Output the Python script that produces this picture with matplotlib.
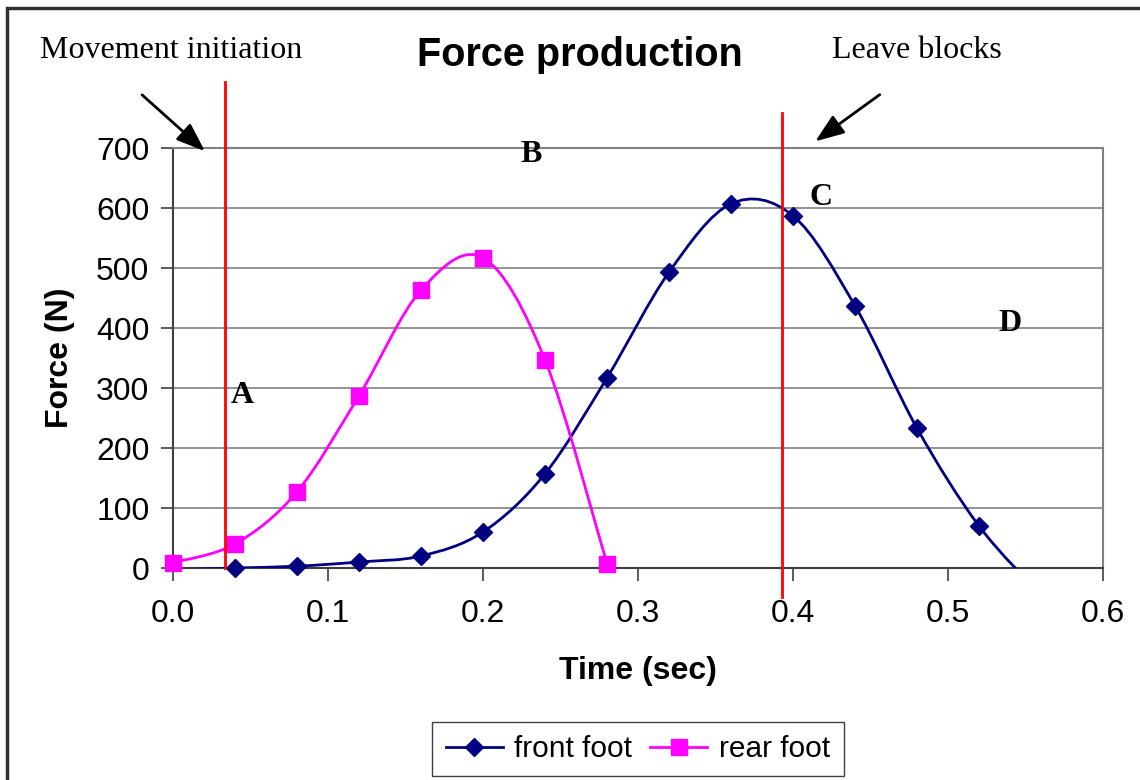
import numpy as np
import matplotlib.pyplot as plt
from matplotlib.path import Path
from matplotlib.patches import PathPatch, Rectangle, FancyArrowPatch
from matplotlib.lines import Line2D

# data
time_front = [0.0, 0.04, 0.08, 0.12, 0.16, 0.20, 0.24, 0.28, 0.32, 0.36, 0.40, 0.44, 0.48, 0.52, 0.56]
force_front = [-3, 0, 3, 10, 20, 60, 157, 317, 493, 607, 587, 437, 233, 70, -45]

time_rear = [0.0, 0.04, 0.08, 0.12, 0.16, 0.20, 0.24, 0.28]
force_rear = [9, 40, 127, 287, 463, 517, 347, 7]

line_times = [0.0335, 0.393]
line_tops = [810, 758]
line_bottoms = [0, -48]

letters = ['A', 'B', 'C', 'D']
letter_x = [0.045, 0.231, 0.418, 0.54]
letter_y = [288, 690, 617, 408]

plt.rcParams['font.family'] = ['Liberation Sans', 'DejaVu Sans']


def smooth_path(x, y):
    # excel-like smoothed line: cubic bezier through every point
    pts = np.column_stack([x, y]).astype(float)
    n = len(pts)
    verts = [pts[0]]
    codes = [Path.MOVETO]
    for i in range(n - 1):
        p0 = pts[i - 1] if i > 0 else pts[i]
        p1 = pts[i]
        p2 = pts[i + 1]
        p3 = pts[i + 2] if i + 2 < n else pts[i + 1]
        c1 = p1 + (p2 - p0) / 6
        c2 = p2 - (p3 - p1) / 6
        verts += [c1, c2, p2]
        codes += [Path.CURVE4] * 3
    return Path(verts, codes)


fig = plt.figure(figsize=(11.4, 7.8), dpi=100)
ax = fig.add_axes([173 / 1140, 1 - 568 / 780, 930 / 1140, 420 / 780])

ax.set_xlim(0, 0.6)
ax.set_ylim(0, 700)
ax.set_xticks(np.arange(0, 0.61, 0.1))
ax.set_xticklabels(['%.1f' % t for t in np.arange(0, 0.61, 0.1)])
ax.set_yticks(np.arange(0, 701, 100))
ax.grid(axis='y', color='#808080', linewidth=1.2)
ax.set_axisbelow(True)
ax.tick_params(labelsize=23, length=9, width=1.2, color='#404040', pad=8)
ax.tick_params(axis='x', pad=13)
for s in ['top', 'right']:
    ax.spines[s].set_color('#808080')
    ax.spines[s].set_linewidth(1.5)
for s in ['left', 'bottom']:
    ax.spines[s].set_color('#404040')
    ax.spines[s].set_linewidth(1.5)

ax.set_xlabel('Time (sec)', fontsize=23, fontweight='bold', labelpad=20)
ax.set_ylabel('Force (N)', fontsize=23, fontweight='bold', labelpad=15)

# smoothed curves
ax.add_patch(PathPatch(smooth_path(time_front, force_front), fill=False,
                       edgecolor='#000080', linewidth=2, zorder=3))
ax.add_patch(PathPatch(smooth_path(time_rear, force_rear), fill=False,
                       edgecolor='#FF00FF', linewidth=2, zorder=3))

# markers (only the points inside the plot area)
tf = np.array(time_front)
ff = np.array(force_front)
ok = ff >= 0
ax.plot(tf[ok], ff[ok], linestyle='none', marker='D', markersize=9,
        color='#000080', zorder=4, clip_on=False)
ax.plot(time_rear, force_rear, linestyle='none', marker='s', markersize=12,
        color='#FF00FF', zorder=5, clip_on=False)

# red event lines
for t, lo, hi in zip(line_times, line_bottoms, line_tops):
    ax.plot([t, t], [lo, hi], color='#FF0000', linewidth=2, clip_on=False, zorder=6)

for lab, x, y in zip(letters, letter_x, letter_y):
    ax.text(x, y, lab, fontsize=23, fontweight='bold', family='Liberation Serif',
            ha='center', va='center', zorder=7)

fig.text(580 / 1140, 1 - 55 / 780, 'Force production', fontsize=28.5, fontweight='bold',
         ha='center', va='center')
fig.text(40 / 1140, 1 - 51 / 780, 'Movement initiation', fontsize=23,
         family='Liberation Serif', ha='left', va='center')
fig.text(917 / 1140, 1 - 51 / 780, 'Leave blocks', fontsize=23,
         family='Liberation Serif', ha='center', va='center')

# arrows
fig.patches.append(FancyArrowPatch(
    (140 / 1140, 1 - 93 / 780), (207 / 1140, 1 - 153 / 780), transform=fig.transFigure,
    arrowstyle='-|>,head_length=0.8,head_width=0.3', mutation_scale=22,
    color='black', linewidth=2))
fig.patches.append(FancyArrowPatch(
    (882 / 1140, 1 - 93 / 780), (813 / 1140, 1 - 143 / 780), transform=fig.transFigure,
    arrowstyle='-|>,head_length=0.8,head_width=0.3', mutation_scale=22,
    color='black', linewidth=2))

# outer frame
fig.patches.append(Rectangle((7 / 1140, -0.05), 1.1, 1 - 8 / 780 + 0.05,
                             transform=fig.transFigure, fill=False,
                             edgecolor='#303030', linewidth=2.5))

# legend
handles = [Line2D([], [], color='#000080', marker='D', markersize=9, linewidth=2),
           Line2D([], [], color='#FF00FF', marker='s', markersize=11, linewidth=2)]
fig.legend(handles, ['front foot', 'rear foot'], loc='center',
           bbox_to_anchor=(638 / 1140, 1 - 749 / 780), ncol=2, fontsize=21.5,
           frameon=True, fancybox=False, edgecolor='#404040', framealpha=1,
           handlelength=1.9, handletextpad=0.4, columnspacing=0.6,
           borderpad=0.45)

fig.savefig('out.png', dpi=100)
